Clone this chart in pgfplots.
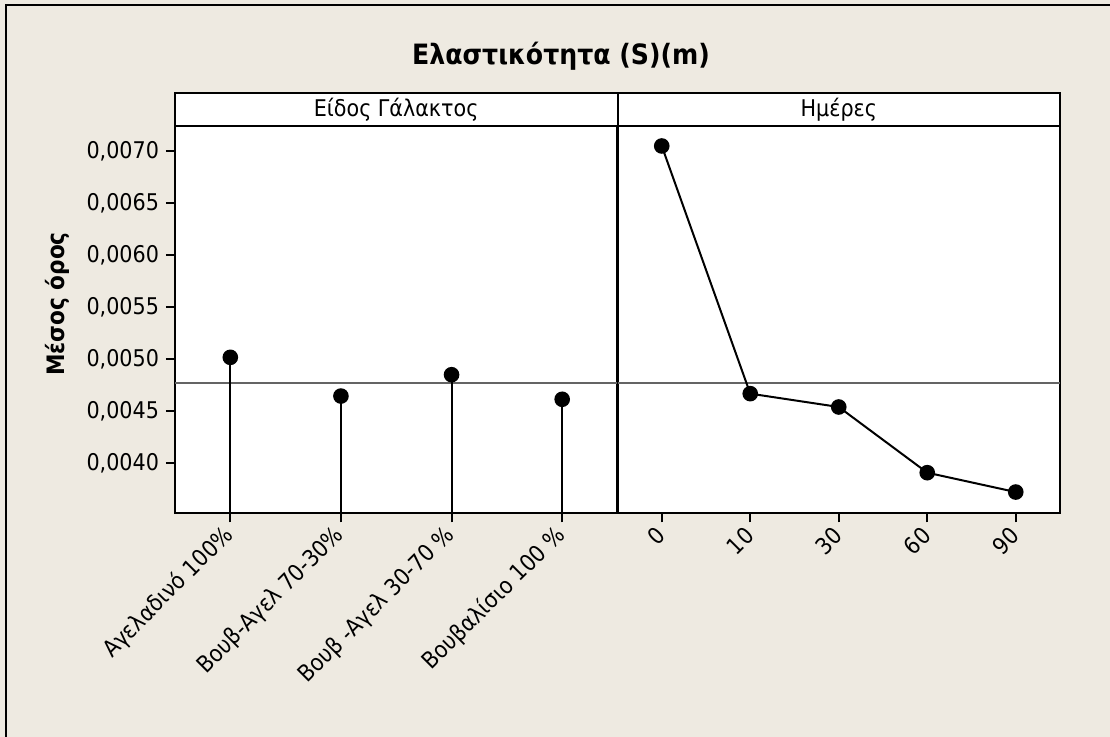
\documentclass[border=0pt]{standalone}
\usepackage{fontspec}
\setmainfont{DejaVu Sans Condensed}
\usepackage{pgfplots}
\pgfplotsset{compat=1.18}

\definecolor{bg}{RGB}{238,234,225}
\definecolor{meanline}{RGB}{100,100,100}

\pgfplotsset{
  panel/.style={
    scale only axis,
    width=221.25pt, height=193.65pt,
    ymin=0.00352, ymax=0.00724,
    axis background/.style={fill=white},
    axis line style={line width=1pt, black},
    tick style={line width=1pt, black},
    tick align=outside,
    major tick length=4.5pt,
    xtick pos=bottom, ytick pos=left,
    scaled y ticks=false,
    tick label style={font=\fontsize{11.5}{13}\selectfont},
    /pgf/number format/assume math mode=true,
    yticklabel style={/pgf/number format/.cd, fixed, fixed zerofill, precision=4, use comma},
    xticklabel style={rotate=45, anchor=east, yshift=-3pt},
  },
}

\begin{document}
\begin{tikzpicture}
\useasboundingbox (0,0) rectangle (555pt,368.5pt);
\fill[bg] (0,0) rectangle (555pt,368.5pt);
\draw[line width=1pt] (3pt,-2pt) -- (3pt,366pt) -- (558pt,366pt);

% main title
\node[font=\bfseries\fontsize{14}{16}\selectfont] at (280.5pt,340.5pt) {Ελαστικότητα (S)(m)};
% y axis title
\node[font=\bfseries\fontsize{12}{14}\selectfont, rotate=90] at (28.5pt,216.5pt) {Μέσος όρος};

% left panel: milk type
\begin{axis}[panel,
  at={(87.5pt,111.85pt)}, anchor=south west,
  xmin=0.5, xmax=4.5,
  xtick={1,2,3,4},
  xticklabels={Αγελαδινό 100\%, Βουβ-Αγελ 70-30\%, Βουβ -Αγελ 30-70 \%, Βουβαλίσιο 100 \%},
  ytick={0.004,0.0045,0.005,0.0055,0.006,0.0065,0.007},
]
\addplot[meanline, line width=1pt, forget plot] coordinates {(0.5,0.00477) (4.5,0.00477)};
\addplot[black, line width=1pt, ycomb, mark=*, mark size=3.4pt, mark options={fill=black}]
  coordinates {(1,0.005018) (2,0.004646) (3,0.004851) (4,0.004615)};
\end{axis}

% right panel: days
\begin{axis}[panel,
  at={(308.75pt,111.85pt)}, anchor=south west,
  xmin=0.5, xmax=5.5,
  xtick={1,2,3,4,5},
  xticklabels={0,10,30,60,90},
  ytick=\empty,
]
\addplot[meanline, line width=1pt, forget plot] coordinates {(0.5,0.00477) (5.5,0.00477)};
\addplot[black, line width=1pt, mark=*, mark size=3.4pt, mark options={fill=black}]
  coordinates {(1,0.007048) (2,0.004669) (3,0.004541) (4,0.003910) (5,0.003724)};
\end{axis}

% panel header strip
\draw[line width=1pt, fill=white] (87.5pt,305.5pt) rectangle (530pt,322pt);
\draw[line width=1pt] (308.75pt,305.5pt) -- (308.75pt,322pt);
\node[font=\fontsize{11.5}{13}\selectfont] at (198.1pt,313.75pt) {Είδος Γάλακτος};
\node[font=\fontsize{11.5}{13}\selectfont] at (419.4pt,313.75pt) {Ημέρες};
\end{tikzpicture}
\end{document}
